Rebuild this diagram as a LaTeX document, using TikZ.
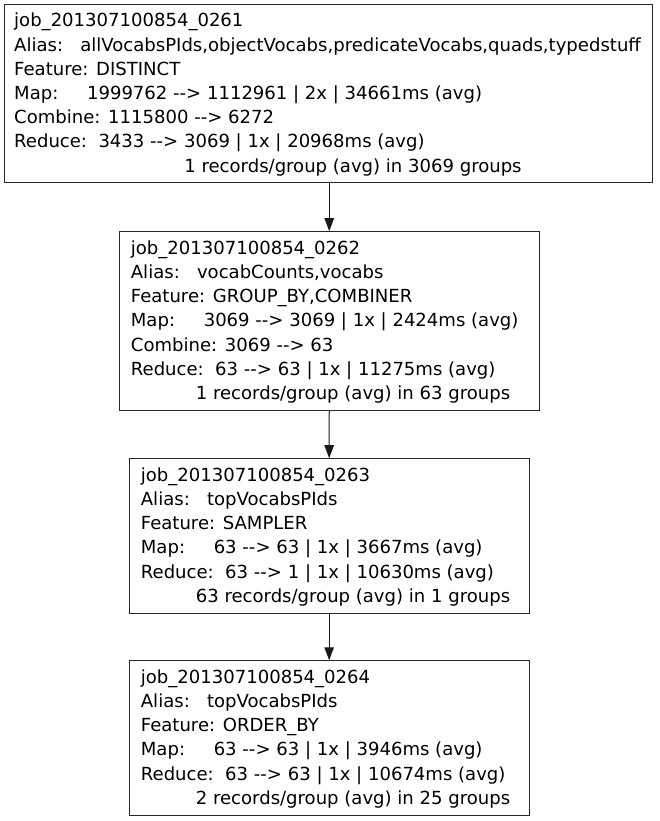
\documentclass[tikz,border=0pt]{standalone}
\usepackage{fontspec}
\newfontfamily\dv{DejaVu Sans}
\usetikzlibrary{arrows.meta}
\tikzset{
  jobbox/.style={draw=black!85, line width=1pt, rectangle, inner sep=0pt},
  ln/.style={anchor=base west, inner sep=0pt, font=\dv\fontsize{18.05}{24}\selectfont},
  lastln/.style={anchor=base, inner sep=0pt, font=\dv\fontsize{18.05}{24}\selectfont},
  flow/.style={draw=black!90, line width=1pt, -{Triangle[length=13pt,width=9.5pt]}}
}
\begin{document}
\begin{tikzpicture}[x=1pt,y=1pt]
\useasboundingbox (0,0) rectangle (659,-821);
% boxes
\node[jobbox, minimum width=647.5pt, minimum height=178.5pt] (b1) at (328.25,-93.75) {};
\node[jobbox, minimum width=419.5pt, minimum height=179pt] (b2) at (329.25,-321.2) {};
\node[jobbox, minimum width=400.3pt, minimum height=154.3pt] (b3) at (329.15,-535.85) {};
\node[jobbox, minimum width=400.3pt, minimum height=155pt] (b4) at (329.15,-738.25) {};
% box 1 text
\node[ln] (t1a) at (14,-27) {job\_201307100854\_0261};
\node[ln] (t1b) at (14,-51.2) {Alias:\ \ \ allVocabsPIds,objectVocabs,predicateVocabs,quads,typedstuff};
\node[ln] (t1c) at (14,-75.4) {Feature: DISTINCT};
\node[ln] (t1d) at (14,-99.6) {Map:\ \ \ \ \ 1999762 --> 1112961 | 2x | 34661ms (avg)};
\node[ln] (t1e) at (14,-123.8) {Combine: 1115800 --> 6272};
\node[ln] (t1f) at (14,-148) {Reduce:\ \ 3433 --> 3069 | 1x | 20968ms (avg)};
\node[lastln] (t1g) at (353,-172.2) {1 records/group (avg) in 3069 groups};
% box 2 text
\node[ln] (t2a) at (130.7,-254.2) {job\_201307100854\_0262};
\node[ln] (t2b) at (130.7,-278.4) {Alias:\ \ \ vocabCounts,vocabs};
\node[ln] (t2c) at (130.7,-302.6) {Feature: GROUP\_BY,COMBINER};
\node[ln] (t2d) at (130.7,-326.8) {Map:\ \ \ \ \ 3069 --> 3069 | 1x | 2424ms (avg)};
\node[ln] (t2e) at (130.7,-351) {Combine: 3069 --> 63};
\node[ln] (t2f) at (130.7,-375.2) {Reduce:\ \ 63 --> 63 | 1x | 11275ms (avg)};
\node[lastln] (t2g) at (353,-399.4) {1 records/group (avg) in 63 groups};
% box 3 text
\node[ln] (t3a) at (140.7,-481.2) {job\_201307100854\_0263};
\node[ln] (t3b) at (140.7,-505.4) {Alias:\ \ \ topVocabsPIds};
\node[ln] (t3c) at (140.7,-529.6) {Feature: SAMPLER};
\node[ln] (t3d) at (140.7,-553.8) {Map:\ \ \ \ \ 63 --> 63 | 1x | 3667ms (avg)};
\node[ln] (t3e) at (140.7,-578) {Reduce:\ \ 63 --> 1 | 1x | 10630ms (avg)};
\node[lastln] (t3f) at (353,-602.2) {63 records/group (avg) in 1 groups};
% box 4 text
\node[ln] (t4a) at (140.7,-683.2) {job\_201307100854\_0264};
\node[ln] (t4b) at (140.7,-707.4) {Alias:\ \ \ topVocabsPIds};
\node[ln] (t4c) at (140.7,-731.6) {Feature: ORDER\_BY};
\node[ln] (t4d) at (140.7,-755.8) {Map:\ \ \ \ \ 63 --> 63 | 1x | 3946ms (avg)};
\node[ln] (t4e) at (140.7,-780) {Reduce:\ \ 63 --> 63 | 1x | 10674ms (avg)};
\node[lastln] (t4f) at (353,-804.2) {2 records/group (avg) in 25 groups};
% connectors
\draw[flow] (b1.south -| b2.north) -- (b2.north);
\draw[flow] (b2.south) -- (b3.north);
\draw[flow] (b3.south) -- (b4.north);
\end{tikzpicture}
\end{document}
